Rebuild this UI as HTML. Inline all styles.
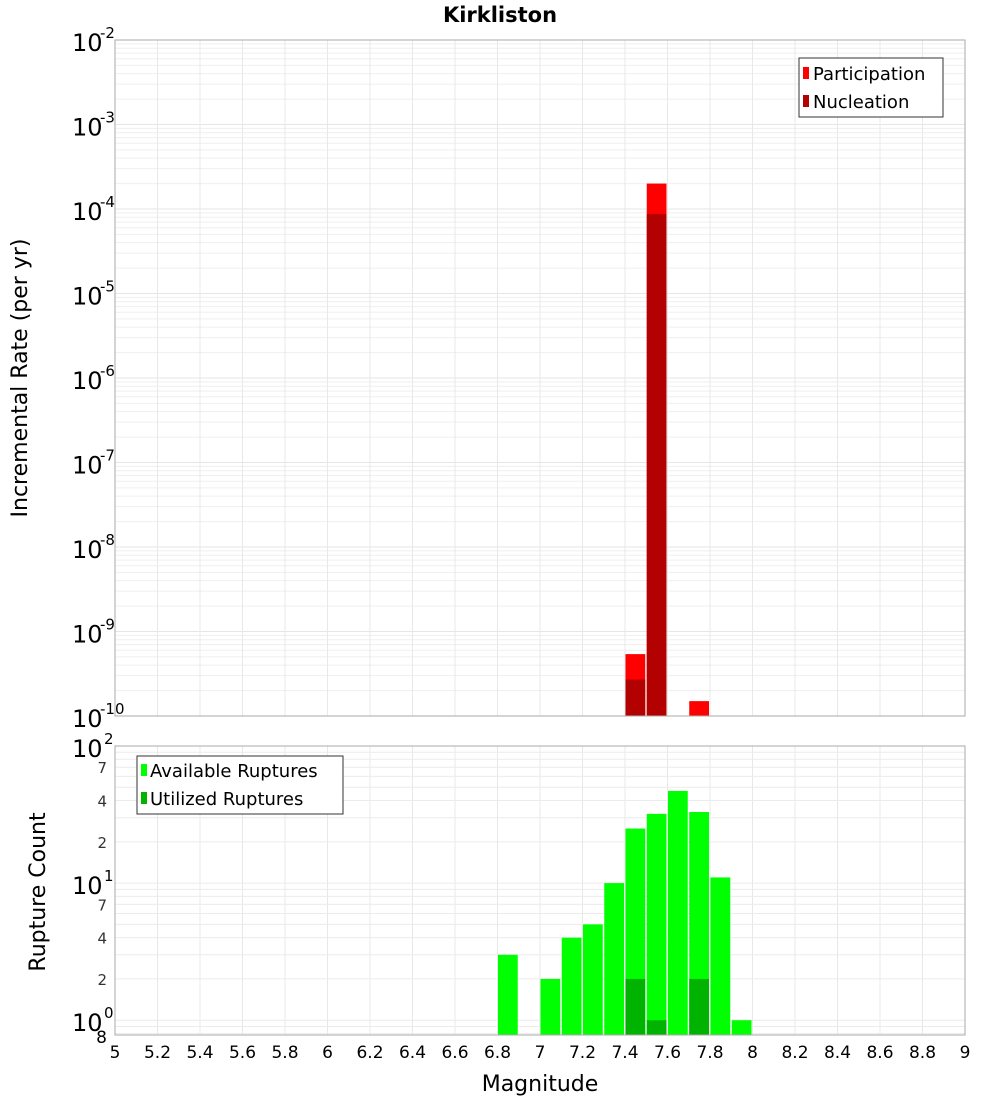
<!DOCTYPE html>
<html><head><meta charset="utf-8"><style>
body{margin:0;background:#fff;}
svg text{font-family:"DejaVu Sans","Liberation Sans",sans-serif;}
</style></head><body>
<svg id="c" width="1000" height="1100" xmlns="http://www.w3.org/2000/svg"></svg>
<script>
const binStarts=[6.8,6.9,7.0,7.1,7.2,7.3,7.4,7.5,7.6,7.7,7.8,7.9];
const participation=[0,0,0,0,0,0,5.4e-10,2.0e-4,0,1.5e-10,0,0];
const nucleation=[0,0,0,0,0,0,2.7e-10,8.7e-5,0,0,0,0];
const available=[3,0,2,4,5,10,25,32,47,33,11,1];
const utilized=[0,0,0,0,0,0,2,1,0,2,0,0];
const xTicks=[5,5.2,5.4,5.6,5.8,6,6.2,6.4,6.6,6.8,7,7.2,7.4,7.6,7.8,8,8.2,8.4,8.6,8.8,9];
const topExps=[-2,-3,-4,-5,-6,-7,-8,-9,-10];
const botMinor=[7,4,2];

const svg=document.getElementById('c');
const NS='http://www.w3.org/2000/svg';
function mk(tag,attrs,parent){const e=document.createElementNS(NS,tag);for(const k in attrs)e.setAttribute(k,attrs[k]);(parent||svg).appendChild(e);return e;}
const X0=115,X1=965;
const x=m=>X0+(m-5)/4*(X1-X0);
const T0=40,T1=716;
const yT=v=>T0+(-2-Math.log10(v))/8*(T1-T0);
const B0=746,B1=1035;
const yB=v=>B0+(2-Math.log10(v))/(2-Math.log10(0.78))*(B1-B0);

// top grid
const gT=mk('g',{});

for(let e=-10;e<-2;e++)for(let k=1;k<10;k++){const yy=yT(k*Math.pow(10,e));mk('line',{x1:X0,x2:X1,y1:yy,y2:yy,stroke:k==1?'#e6e6e6':'#efefef','stroke-width':1},gT);}
xTicks.forEach(t=>{mk('line',{x1:x(t),x2:x(t),y1:T0,y2:T1,stroke:'#e8e8e8'},gT);mk('line',{x1:x(t),x2:x(t),y1:B0,y2:B1,stroke:'#e8e8e8'},gT);});
for(let e=-1;e<2;e++)for(let k=1;k<10;k++){const v=k*Math.pow(10,e);if(v<0.78||v>100)continue;const yy=yB(v);mk('line',{x1:X0,x2:X1,y1:yy,y2:yy,stroke:'#ececec'},gT);}

// bars
const bw=(x(5.1)-x(5))-1.5;
binStarts.forEach((b,i)=>{
 if(participation[i]>0){const r=mk('rect',{x:x(b)+0.5,y:yT(participation[i]),width:bw,height:T1-yT(participation[i]),fill:'#ff0000'});}
 if(nucleation[i]>0){const r=mk('rect',{x:x(b)+0.5,y:yT(nucleation[i]),width:bw,height:T1-yT(nucleation[i]),fill:'#b30000'});}
 if(available[i]>0){const r=mk('rect',{x:x(b)+0.5,y:yB(available[i]),width:bw,height:B1-yB(available[i]),fill:'#00ff00'});}
 if(utilized[i]>0){const r=mk('rect',{x:x(b)+0.5,y:yB(utilized[i]),width:bw,height:B1-yB(utilized[i]),fill:'#00b300'});}
});
mk('rect',{x:X0,y:T0,width:X1-X0,height:T1-T0,fill:'none',stroke:'#aaa'});
mk('rect',{x:X0,y:B0,width:X1-X0,height:B1-B0,fill:'none',stroke:'#aaa'});

// top y labels
topExps.forEach(e=>{const yy=yT(Math.pow(10,e));
 const t=mk('text',{x:72,y:yy+11,'font-size':24});t.textContent='10';
 const s=mk('text',{x:100,y:yy-2,'font-size':15});s.textContent=String(e);});
// bottom y labels
[[100,'2'],[10,'1'],[1,'0']].forEach(([v,p])=>{const yy=yB(v);
 const t=mk('text',{x:72,y:yy+11,'font-size':24});t.textContent='10';
 const s=mk('text',{x:104,y:yy-2,'font-size':15});s.textContent=p;});
[70,40,20,7,4,2].forEach(v=>{const t=mk('text',{x:107,y:yB(v)+6,'font-size':15,'text-anchor':'end',fill:'#333'});t.textContent=String(v).charAt(0);});
{const t=mk('text',{x:107,y:1043,'font-size':17,'text-anchor':'end'});t.textContent='8';}
// x labels
xTicks.forEach(t=>{const e=mk('text',{x:x(t),y:1058,'font-size':17,'text-anchor':'middle'});e.textContent=String(Math.round(t*10)/10);});
</script>
<svg width="1000" height="1100" style="position:absolute;left:0;top:0" xmlns="http://www.w3.org/2000/svg">
<text x="500" y="22" font-size="21" font-weight="bold" text-anchor="middle" font-family="DejaVu Sans,sans-serif">Kirkliston</text>
<text transform="translate(27,378) rotate(-90)" font-size="22" text-anchor="middle" font-family="DejaVu Sans,sans-serif">Incremental Rate (per yr)</text>
<text transform="translate(45,892) rotate(-90)" font-size="22" text-anchor="middle" font-family="DejaVu Sans,sans-serif">Rupture Count</text>
<text x="540" y="1091" font-size="22" text-anchor="middle" font-family="DejaVu Sans,sans-serif">Magnitude</text>
<g font-family="DejaVu Sans,sans-serif" font-size="18">
<rect x="799" y="58" width="144" height="59" fill="#fff" stroke="#333"/>
<rect x="803" y="67" width="6" height="12" fill="#ff0000"/><text x="813" y="80">Participation</text>
<rect x="803" y="95" width="6" height="12" fill="#b30000"/><text x="813" y="108">Nucleation</text>
</g>
<g font-family="DejaVu Sans,sans-serif" font-size="18">
<rect x="137" y="756" width="206" height="58" fill="#fff" stroke="#333"/>
<rect x="141" y="764" width="6" height="12" fill="#00ff00"/><text x="150" y="777">Available Ruptures</text>
<rect x="141" y="792" width="6" height="12" fill="#00b300"/><text x="150" y="805">Utilized Ruptures</text>
</g>
</svg>
</body></html>
